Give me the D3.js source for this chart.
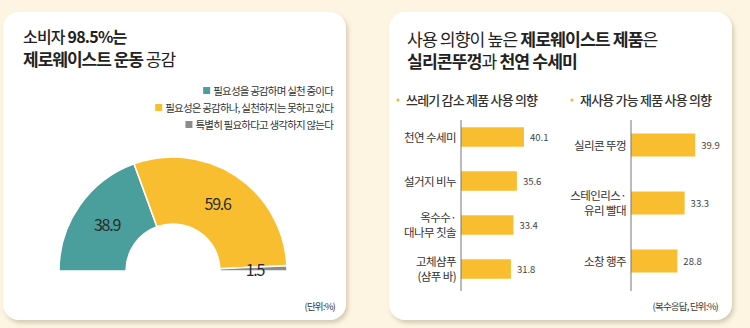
<!DOCTYPE html>
<html><head><meta charset="utf-8">
<script src="https://cdn.jsdelivr.net/npm/d3@7"></script>
<style>
html,body{margin:0;padding:0;background:#fdf5e1;}
svg{display:block;font-family:"Noto Sans CJK KR","Noto Sans",sans-serif;}
</style></head><body>
<svg id="c" width="750" height="328"></svg>
<script>
// ---- data ----
const donutLabels = ["필요성을 공감하며 실천 중이다", "필요성은 공감하나, 실천하지는 못하고 있다", "특별히 필요하다고 생각하지 않는다"];
const donutValues = [38.9, 59.6, 1.5];
const donutColors = ["#4a9e9c", "#f9be30", "#8c8c8c"];

const wasteCats = [["천연 수세미"], ["설거지 비누"], ["옥수수·", "대나무 칫솔"], ["고체샴푸", "(샴푸 바)"]];
const wasteValues = [40.1, 35.6, 33.4, 31.8];

const reuseCats = [["실리콘 뚜껑"], ["스테인리스·", "유리 빨대"], ["소창 행주"]];
const reuseValues = [39.9, 33.3, 28.8];

const svg = d3.select("#c");
const defs = svg.append("defs");
const f = defs.append("filter").attr("id","sh").attr("x","-10%").attr("y","-10%").attr("width","130%").attr("height","130%");
f.append("feDropShadow").attr("dx",2).attr("dy",3).attr("stdDeviation",2).attr("flood-color","#8a7a60").attr("flood-opacity",0.35);

// cards
svg.append("rect").attr("x",3).attr("y",12).attr("width",343).attr("height",308).attr("rx",16).attr("fill","#fff").attr("filter","url(#sh)");
svg.append("rect").attr("x",389).attr("y",12).attr("width",343).attr("height",308).attr("rx",16).attr("fill","#fff").attr("filter","url(#sh)");

// ---- left card ----
const t1 = svg.append("text").attr("x",23).attr("y",43).attr("font-size",16).attr("letter-spacing",-0.8).attr("fill","#222");
t1.append("tspan").attr("font-weight",500).text("소비자 ");
t1.append("tspan").attr("font-weight",700).text("98.5%는");
const t2 = svg.append("text").attr("x",23).attr("y",66).attr("font-size",17).attr("letter-spacing",-1).attr("fill","#222");
t2.append("tspan").attr("font-weight",700).text("제로웨이스트 운동 ");
t2.append("tspan").attr("font-weight",400).text("공감");

// legend
donutLabels.forEach((lab,i)=>{
  const y = 95 + i*17;
  const tx = svg.append("text").attr("x",333).attr("y",y).attr("text-anchor","end")
    .attr("font-size",10.5).attr("letter-spacing",-0.8).attr("fill","#333").text(lab);
  const w = tx.node().getComputedTextLength();
  svg.append("rect").attr("x",333-w-10).attr("y",y-8).attr("width",7).attr("height",7).attr("fill",donutColors[i]);
});

// semi donut
const cx = 173, cy = 271;
const pie = d3.pie().sort(null).startAngle(-Math.PI/2).endAngle(Math.PI/2);
const arc = d3.arc().innerRadius(47).outerRadius(114);
const g = svg.append("g").attr("transform",`translate(${cx},${cy})`);
const arcs = pie(donutValues);
g.selectAll("path").data(arcs).enter().append("path")
  .attr("d",arc).attr("fill",(d,i)=>donutColors[i]).attr("stroke","#fff").attr("stroke-width",1.5);
g.selectAll("text.v").data(arcs).enter().append("text").attr("class","v")
  .attr("x",(d,i)=> i===2 ? 82 : arc.centroid(d)[0])
  .attr("y",(d,i)=> i===2 ? 5 : arc.centroid(d)[1]+6)
  .attr("text-anchor","middle").attr("font-size",16).attr("letter-spacing",-1.2).attr("fill","#2b2b2b")
  .text(d=>d.data);
svg.append("text").attr("x",335).attr("y",310).attr("text-anchor","end").attr("font-size",9.5).attr("letter-spacing",-0.8).attr("fill","#333").text("(단위:%)");

// ---- right card ----
const r1 = svg.append("text").attr("x",407).attr("y",46).attr("font-size",17.2).attr("letter-spacing",-0.9).attr("fill","#222");
r1.append("tspan").attr("font-weight",400).text("사용 의향이 높은 ");
r1.append("tspan").attr("font-weight",700).text("제로웨이스트 제품");
r1.append("tspan").attr("font-weight",400).text("은");
const r2 = svg.append("text").attr("x",407).attr("y",68).attr("font-size",17.2).attr("letter-spacing",-0.9).attr("fill","#222");
r2.append("tspan").attr("font-weight",700).text("실리콘뚜껑");
r2.append("tspan").attr("font-weight",400).text("과 ");
r2.append("tspan").attr("font-weight",700).text("천연 수세미");

function sub(x, label){
  svg.append("circle").attr("cx",x).attr("cy",100).attr("r",1.6).attr("fill","#f0b83a");
  svg.append("text").attr("x",x+8).attr("y",105).attr("font-size",13).attr("font-weight",500).attr("letter-spacing",-0.8).attr("fill","#333").text(label);
}
sub(398, "쓰레기 감소 제품 사용 의향");
sub(572, "재사용 가능 제품 사용 의향");

function barChart(cats, vals, axisX, pxPer50, range, barH){
  const x = d3.scaleLinear().domain([0,50]).range([axisX, axisX+pxPer50]);
  const y = d3.scalePoint().domain(d3.range(cats.length)).range(range).padding(0.5);
  const gg = svg.append("g");
  gg.selectAll("rect").data(vals).enter().append("rect")
    .attr("x",x(0)).attr("y",(d,i)=>y(i)-barH/2).attr("width",d=>x(d)-x(0)).attr("height",barH).attr("fill","#f9be30");
  gg.append("line").attr("x1",axisX).attr("x2",axisX).attr("y1",120).attr("y2",291).attr("stroke","#777").attr("stroke-width",1);
  gg.selectAll("text.val").data(vals).enter().append("text").attr("class","val")
    .attr("x",d=>x(d)+6).attr("y",(d,i)=>y(i)+4).attr("font-size",9.5).attr("fill","#444").text(d=>d.toFixed(1));
  cats.forEach((lines,i)=>{
    const n = lines.length;
    lines.forEach((l,j)=>{
      svg.append("text").attr("x",axisX-5).attr("y",y(i)+4.5+(j-(n-1)/2)*15)
        .attr("text-anchor","end").attr("font-size",11.5).attr("letter-spacing",-0.6).attr("fill","#333").text(l);
    });
  });
}
barChart(wasteCats, wasteValues, 461, 78.5, [115,291], 19.5);
barChart(reuseCats, reuseValues, 631, 80.5, [116,290], 23);

svg.append("text").attr("x",718).attr("y",310).attr("text-anchor","end").attr("font-size",9.5).attr("letter-spacing",-0.8).attr("fill","#333").text("(복수응답, 단위:%)");
</script>
</body></html>
